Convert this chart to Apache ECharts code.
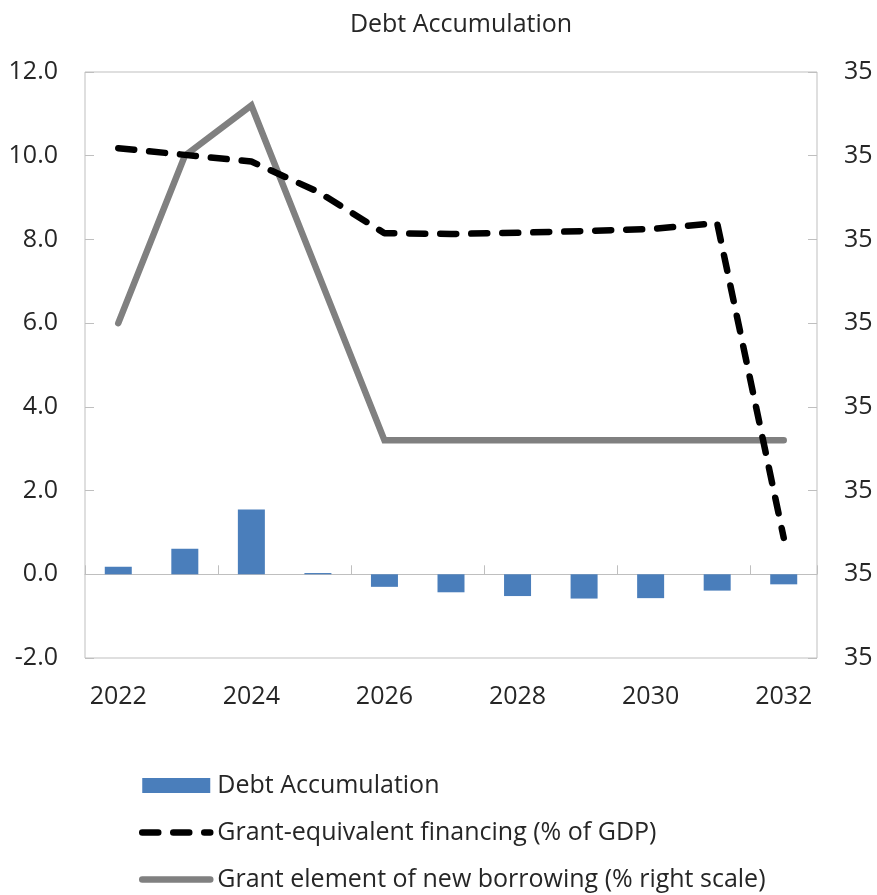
<!DOCTYPE html>
<html>
<head>
<meta charset="utf-8">
<script src="https://cdn.jsdelivr.net/npm/echarts@6/dist/echarts.min.js"></script>
<style>
html,body{margin:0;padding:0;background:#fff;}
#chart{width:877px;height:895px;}
</style>
</head>
<body>
<div id="chart"></div>
<script>
var categories = ['2022','2023','2024','2025','2026','2027','2028','2029','2030','2031','2032'];
var debtAccumulation = [0.18, 0.61, 1.55, 0.03, -0.30, -0.43, -0.52, -0.58, -0.57, -0.39, -0.24];
var grantEquivalent = [10.18, 10.02, 9.86, 9.14, 8.15, 8.13, 8.16, 8.20, 8.25, 8.39, 0.87];
var grantElement = [35.20, 35.30, 35.33, 35.23, 35.13, 35.13, 35.13, 35.13, 35.13, 35.13, 35.13];
var leftTicks = {min: -2, max: 12, interval: 2};
var rightTicks = {min: 35, max: 35.35, interval: 0.05};

var FONT = '"Open Sans", "Noto Sans", sans-serif';
var FS = 25;
var TXT = '#262626';
var chart = echarts.init(document.getElementById('chart'), null, {renderer: 'canvas'});
chart.setOption({
  animation: false,
  textStyle: {fontFamily: FONT},
  title: {
    text: 'Debt Accumulation',
    left: 456, top: 7, textAlign: 'center',
    textStyle: {fontFamily: FONT, fontSize: FS, fontWeight: 'normal', color: TXT}
  },
  grid: {left: 85, right: 60, top: 72, bottom: 237, show: true, borderColor: '#bfbfbf', borderWidth: 1, containLabel: false},
  legend: {
    orient: 'vertical', left: 139, top: 773, padding: 0,
    itemWidth: 68, itemHeight: 15, itemGap: 22,
    textStyle: {fontFamily: FONT, fontSize: FS, color: TXT, padding: [0, 0, 0, 2]},
    data: [
      {name: 'Debt Accumulation', icon: 'rect'},
      {name: 'Grant-equivalent financing (% of GDP)',
        itemStyle: {color: 'rgba(0,0,0,0)', borderColor: 'rgba(0,0,0,0)', borderWidth: 0},
        lineStyle: {width: 6.5, type: [16, 15], cap: 'round', color: '#000000'}},
      {name: 'Grant element of new borrowing (% right scale)',
        itemStyle: {color: 'rgba(0,0,0,0)', borderColor: 'rgba(0,0,0,0)', borderWidth: 0},
        lineStyle: {width: 6.5, cap: 'round', color: '#808080'}}
    ]
  },
  xAxis: [
    {
      type: 'category', data: categories, position: 'bottom',
      axisLine: {show: false, onZero: false},
      axisTick: {show: false},
      axisLabel: {interval: 1, margin: 26, fontSize: FS, color: TXT, fontFamily: FONT},
      splitLine: {show: false}
    },
    {
      type: 'category', data: categories, position: 'bottom',
      axisLine: {show: true, onZero: true, lineStyle: {color: '#bfbfbf', width: 1}},
      axisTick: {show: true, inside: true, interval: 1, length: 9, lineStyle: {color: '#bfbfbf'}},
      axisLabel: {show: false},
      splitLine: {show: false}
    }
  ],
  yAxis: [
    {
      type: 'value', min: leftTicks.min, max: leftTicks.max, interval: leftTicks.interval,
      axisLine: {show: false},
      axisTick: {show: true, inside: true, length: 9, lineStyle: {color: '#bfbfbf'}},
      splitLine: {show: false},
      axisLabel: {margin: 27, fontSize: FS, color: TXT, fontFamily: FONT,
        formatter: function (v) { return v.toFixed(1); }}
    },
    {
      type: 'value', min: rightTicks.min, max: rightTicks.max, interval: rightTicks.interval,
      position: 'right',
      axisLine: {show: false},
      axisTick: {show: true, inside: true, length: 9, lineStyle: {color: '#bfbfbf'}},
      splitLine: {show: false},
      axisLabel: {margin: 27, fontSize: FS, color: TXT, fontFamily: FONT,
        formatter: function (v) { return Math.round(v).toString(); }}
    }
  ],
  series: [
    {
      name: 'Debt Accumulation', type: 'bar', data: debtAccumulation,
      xAxisIndex: 0, yAxisIndex: 0, barWidth: 27,
      itemStyle: {color: '#4a7ebb'}
    },
    {
      name: 'Grant element of new borrowing (% right scale)', type: 'line', data: grantElement,
      xAxisIndex: 0, yAxisIndex: 1, symbol: 'none', z: 3,
      lineStyle: {color: '#808080', width: 6.5, cap: 'round', join: 'miter'},
      itemStyle: {color: '#808080'}
    },
    {
      name: 'Grant-equivalent financing (% of GDP)', type: 'line', data: grantEquivalent,
      xAxisIndex: 0, yAxisIndex: 0, symbol: 'none', z: 4,
      lineStyle: {color: '#000000', width: 6.5, type: [16, 15], cap: 'round', join: 'round'},
      itemStyle: {color: '#000000'}
    }
  ]
});
</script>
</body>
</html>
